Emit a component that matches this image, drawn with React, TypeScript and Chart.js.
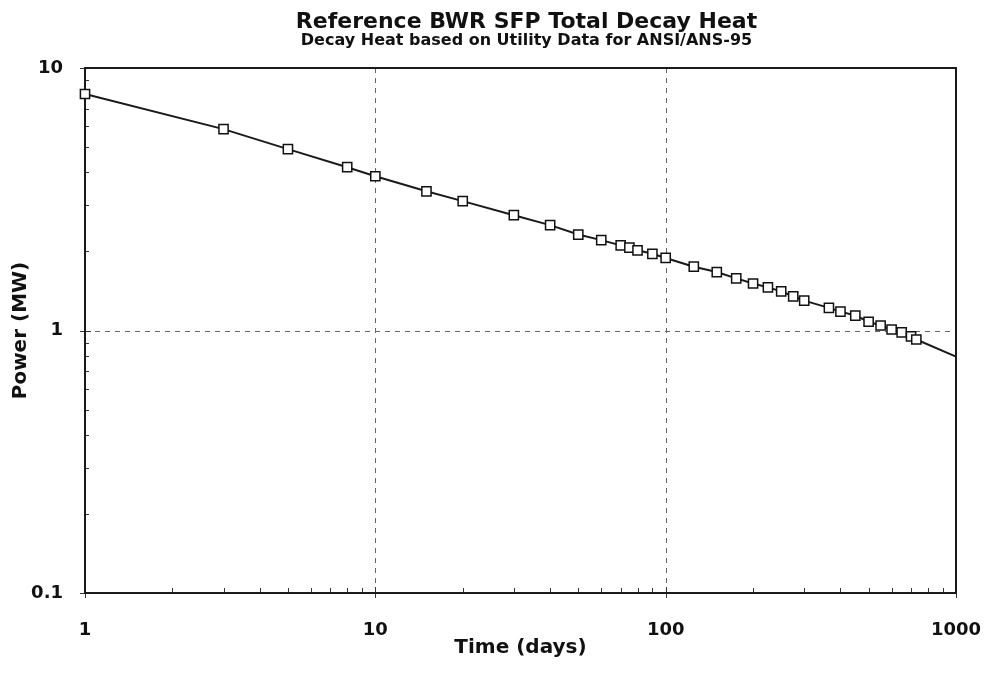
import React, { useEffect, useRef } from "react";
import { Chart, registerables } from "chart.js";

Chart.register(...registerables);

// ---- data ----
const days = [1, 3, 5, 8, 10, 15, 20, 30, 40, 50, 60, 70, 75, 80, 90, 100, 125, 150, 175, 200, 225, 250, 275, 300, 365, 400, 450, 500, 550, 600, 650, 700, 730, 1000];
const power = [7.96, 5.85, 4.91, 4.19, 3.87, 3.39, 3.11, 2.75, 2.52, 2.32, 2.21, 2.11, 2.07, 2.02, 1.96, 1.89, 1.75, 1.67, 1.58, 1.51, 1.46, 1.41, 1.35, 1.30, 1.22, 1.18, 1.14, 1.08, 1.045, 1.009, 0.983, 0.949, 0.924, 0.795];
const xTickLabels = [1, 10, 100, 1000];
const yTickLabels = [0.1, 1, 10];
const titleText = "Reference BWR SFP Total Decay Heat";
const subtitleText = "Decay Heat based on Utility Data for ANSI/ANS-95";
const xAxisTitle = "Time (days)";
const yAxisTitle = "Power (MW)";

const FONT = "'DejaVu Sans', 'Liberation Sans', Arial, sans-serif";

function findLabel(list: number[], v: number): string {
  const hit = list.find((t) => Math.abs(t - v) / t < 1e-6);
  return hit === undefined ? "" : String(hit);
}

const decorPlugin = {
  id: "decor",
  beforeDatasetsDraw(chart: any) {
    const { ctx, chartArea: a, scales } = chart;
    const xs = scales.x;
    const ys = scales.y;
    const line = (x1: number, y1: number, x2: number, y2: number) => {
      ctx.beginPath();
      ctx.moveTo(x1, y1);
      ctx.lineTo(x2, y2);
      ctx.stroke();
    };
    ctx.save();
    // dashed decade grid lines
    ctx.strokeStyle = "#666";
    ctx.lineWidth = 1;
    ctx.setLineDash([5, 5]);
    for (const v of xTickLabels) {
      if (v <= xs.min || v >= xs.max) continue;
      const px = Math.round(xs.getPixelForValue(v)) + 0.5;
      line(px, a.top, px, a.bottom);
    }
    for (const v of yTickLabels) {
      if (v <= ys.min || v >= ys.max) continue;
      const py = Math.round(ys.getPixelForValue(v)) + 0.5;
      line(a.left, py, a.right, py);
    }
    ctx.setLineDash([]);
    // minor ticks (inside)
    ctx.strokeStyle = "#333";
    ctx.lineWidth = 1;
    for (const d of [1, 10, 100]) {
      for (let m = 2; m <= 9; m++) {
        const px = Math.round(xs.getPixelForValue(d * m)) + 0.5;
        line(px, a.bottom, px, a.bottom - 5);
      }
    }
    for (const d of [0.1, 1]) {
      for (let m = 2; m <= 9; m++) {
        const py = Math.round(ys.getPixelForValue(d * m)) + 0.5;
        line(a.left - 1, py, a.left + 4, py);
      }
    }
    // major ticks
    for (const v of xTickLabels) {
      const px = Math.round(xs.getPixelForValue(v)) + 0.5;
      line(px, a.bottom - 6, px, a.bottom + 5);
    }
    for (const v of yTickLabels) {
      const py = Math.round(ys.getPixelForValue(v)) + 0.5;
      line(a.left - 5, py, a.left + 6, py);
    }
    // frame
    ctx.strokeStyle = "#1a1a1a";
    ctx.lineWidth = 2;
    ctx.strokeRect(a.left, a.top, a.right - a.left, a.bottom - a.top);
    ctx.restore();
  },
  afterDraw(chart: any) {
    const { ctx, chartArea: a } = chart;
    const cx = (a.left + a.right) / 2 + 6;
    ctx.save();
    ctx.fillStyle = "#111";
    ctx.textAlign = "center";
    ctx.textBaseline = "alphabetic";
    ctx.font = `bold 22px ${FONT}`;
    ctx.fillText(titleText, cx, 28);
    ctx.font = `bold 16px ${FONT}`;
    ctx.fillText(subtitleText, cx, 45);
    ctx.restore();
  },
};

export default function App() {
  const ref = useRef<HTMLCanvasElement | null>(null);
  useEffect(() => {
    if (!ref.current) return;
    const chart = new Chart(ref.current, {
      type: "line",
      data: {
        datasets: [
          {
            data: days.map((d, i) => ({ x: d, y: power[i] })),
            borderColor: "#1a1a1a",
            borderWidth: 2,
            tension: 0,
            pointStyle: "rect",
            pointRadius: (c: any) => (c.dataIndex === days.length - 1 ? 0 : 6.5),
            pointBackgroundColor: "#ffffff",
            pointBorderColor: "#111111",
            pointBorderWidth: 1.5,
            clip: false as any,
          },
        ],
      },
      options: {
        responsive: false,
        animation: false,
        layout: { padding: { top: 68, right: 30, bottom: 0, left: 0 } },
        plugins: {
          legend: { display: false },
          tooltip: { enabled: false },
        },
        scales: {
          x: {
            type: "logarithmic",
            min: 1,
            max: 1000,
            grid: { display: false },
            border: { display: false },
            ticks: {
              autoSkip: false,
              maxRotation: 0,
              padding: 19,
              color: "#111",
              font: { family: FONT, size: 18, weight: "bold" },
              callback: (v: any) => findLabel(xTickLabels, Number(v)),
            },
            title: {
              display: true,
              text: xAxisTitle,
              color: "#111",
              font: { family: FONT, size: 20, weight: "bold" },
              padding: { top: 0, bottom: 13 },
            },
            afterFit: (s: any) => {
              s.height = 80;
              s.paddingLeft = 0;
              s.paddingRight = 0;
            },
          },
          y: {
            type: "logarithmic",
            min: 0.1,
            max: 10,
            grid: { display: false },
            border: { display: false },
            ticks: {
              autoSkip: false,
              padding: 14,
              color: "#111",
              font: { family: FONT, size: 18, weight: "bold" },
              callback: (v: any) => findLabel(yTickLabels, Number(v)),
            },
            title: {
              display: true,
              text: yAxisTitle,
              color: "#111",
              font: { family: FONT, size: 20, weight: "bold" },
              padding: { top: 9, bottom: 0 },
            },
            afterFit: (s: any) => {
              s.width = 85;
              s.paddingTop = 0;
              s.paddingBottom = 0;
            },
          },
        },
      } as any,
      plugins: [decorPlugin],
    });
    return () => chart.destroy();
  }, []);
  return (
    <div style={{ position: "absolute", left: 0, top: 0, width: 986, height: 673, background: "#fff" }}>
      <canvas ref={ref} width={986} height={673} style={{ display: "block" }} />
    </div>
  );
}
